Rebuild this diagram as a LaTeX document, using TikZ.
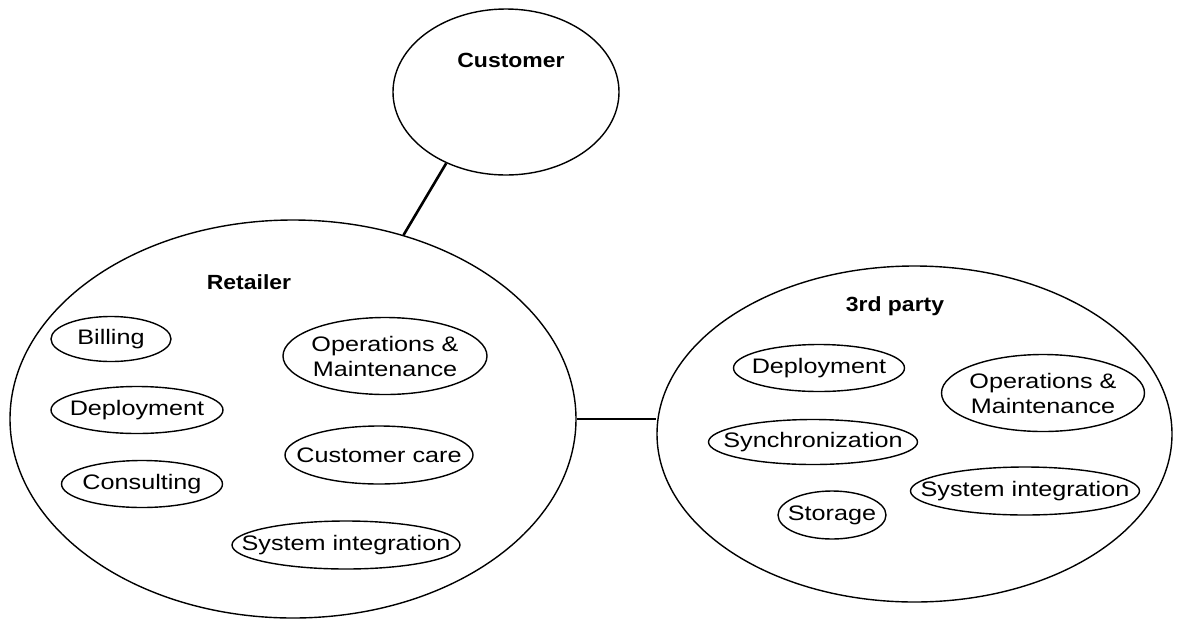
\documentclass[tikz,border=0pt]{standalone}
\usepackage{fontspec}
\setmainfont{Liberation Sans}
\newfontfamily\itemfont[FakeStretch=1.2]{Liberation Sans}
\newfontfamily\headfont[FakeStretch=1.12]{Liberation Sans}
\usetikzlibrary{shapes.geometric}
\tikzset{
  party/.style={ellipse, draw, line width=1.4pt, inner sep=0pt},
  itemtext/.style={inner sep=0pt, align=center,
    font=\itemfont\fontsize{21}{25}\selectfont},
  role/.style={ellipse, draw, line width=1.4pt, inner sep=0pt,
    label={[itemtext]center:#1}},
  head/.style={font=\headfont\bfseries\fontsize{20.5}{24}\selectfont, inner sep=0pt},
  link/.style={line width=2.6pt}
}
\begin{document}
\begin{tikzpicture}[x=1pt, y=-1pt]
\useasboundingbox[fill=white] (0,0) rectangle (1189,622);

% parties
\node[party, minimum width=226, minimum height=166] (customer) at (506,92) {};
\node[party, minimum width=566, minimum height=398] (retailer) at (293,419) {};
\node[party, minimum width=515, minimum height=336] (third) at (914.5,434) {};

% party names
\node[head] (customerlbl) at (511,60) {Customer};
\node[head] (retailerlbl) at (249,282) {Retailer};
\node[head] (thirdlbl) at (895,306) {3rd party};

% retailer roles
\node[role={Billing}, minimum width=120, minimum height=45] (rbilling) at (111,339) {};
\node[role={Deployment}, minimum width=172, minimum height=47] (rdeploy) at (137,410) {};
\node[role={Consulting}, minimum width=161, minimum height=47] (rconsult) at (142,484) {};
\node[role={Operations \&\\Maintenance}, minimum width=204, minimum height=77] (rom) at (385,356) {};
\node[role={Customer care}, minimum width=188, minimum height=58] (rcare) at (379,455) {};
\node[role={System integration}, minimum width=228, minimum height=48] (rsys) at (346,545) {};

% third-party roles
\node[role={Deployment}, minimum width=171, minimum height=47] (tdeploy) at (819,368) {};
\node[role={Operations \&\\Maintenance}, minimum width=203, minimum height=77] (tom) at (1043,393) {};
\node[role={Synchronization}, minimum width=209, minimum height=45] (tsync) at (813,442) {};
\node[role={System integration}, minimum width=229, minimum height=48] (tsys) at (1025,491) {};
\node[role={Storage}, minimum width=108, minimum height=48] (tstore) at (832,515) {};

% links between parties
\draw[link] (customer.230) -- (retailer.59.6);
\draw[link] (retailer.0) -- (retailer.0 -| third.west);
\end{tikzpicture}
\end{document}
